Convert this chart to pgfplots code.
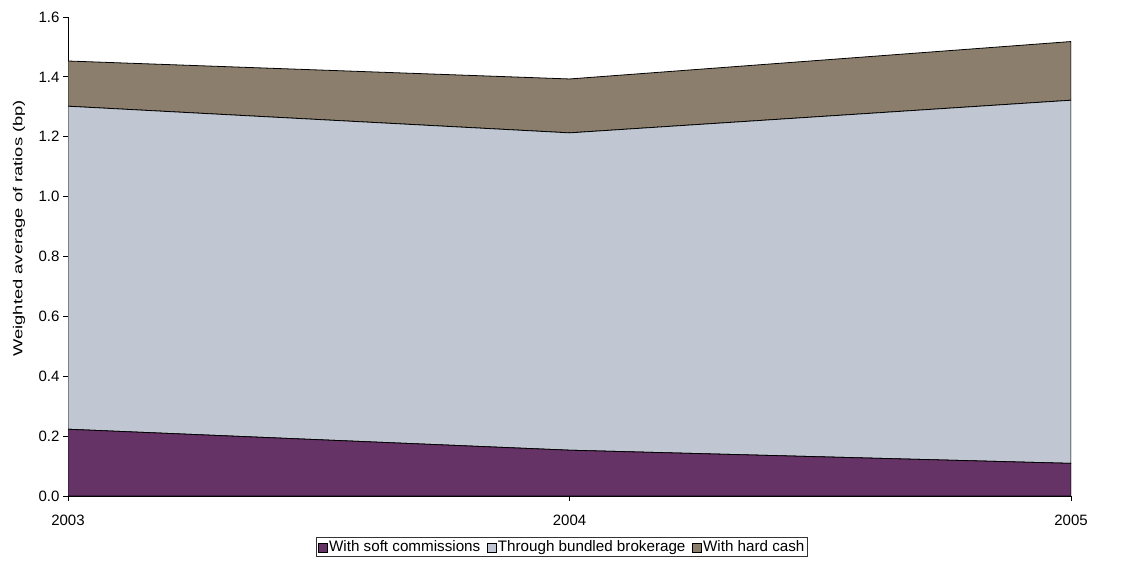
\documentclass[border=0pt]{standalone}
\usepackage{fontspec}
\setmainfont{Liberation Sans}
\usepackage{pgfplots}
\pgfplotsset{compat=1.18}

\definecolor{softc}{HTML}{663366}
\definecolor{bundc}{HTML}{C0C6D2}
\definecolor{hardc}{HTML}{8C7E6C}

\begin{document}
\begin{tikzpicture}[x=1pt,y=1pt]
\path (0,0) rectangle (1124,570);
\begin{axis}[at={(68pt,74pt)},anchor=south west,
  scale only axis,width=1003pt,height=479pt,
  xmin=2003,xmax=2005,ymin=0,ymax=1.6,
  xtick={2003,2004,2005},ytick={0,0.2,...,1.6},
  axis x line=bottom,axis y line=left,
  axis line style={-,line width=0.9pt},
  tick style={black,line width=0.9pt},
  tick align=outside,major tick length=5pt,
  x tick label style={/pgf/number format/set thousands separator={},yshift=-10pt},
  y tick label style={/pgf/number format/.cd,fixed,fixed zerofill,precision=1},
  /pgf/number format/assume math mode=true,
  ticklabel style={font=\fontsize{15}{17}\selectfont},
  ylabel={\scalebox{1.41}[1]{Weighted average of ratios (bp)}},
  ylabel style={font=\fontsize{13}{15}\selectfont,at={(rel axis cs:0,0.559)},anchor=center,yshift=49pt},
  stack plots=y,
  legend columns=3,
  legend style={at={(rel axis cs:0.4925,-0.1065)},anchor=center,draw=black!80,
    line width=0.6pt,font=\fontsize{15.2}{17}\selectfont,
    nodes={inner xsep=1.5pt,inner ysep=2pt},
    /tikz/every even column/.append style={column sep=5pt},inner sep=1.5pt},
  legend image code/.code={\draw[#1,line width=0.6pt] (0pt,-5pt) rectangle (9pt,4pt);},
]
\addplot[draw=black,fill=softc,line width=0.8pt] coordinates {(2003,0.223)(2004,0.153)(2005,0.109)} \closedcycle;
\addlegendentry{With soft commissions}
\addplot[draw=black,fill=bundc,line width=0.8pt] coordinates {(2003,1.079)(2004,1.060)(2005,1.213)} \closedcycle;
\addlegendentry{Through bundled brokerage}
\addplot[draw=black,fill=hardc,line width=0.8pt] coordinates {(2003,0.151)(2004,0.180)(2005,0.196)} \closedcycle;
\addlegendentry{With hard cash}
\end{axis}
\end{tikzpicture}
\end{document}
